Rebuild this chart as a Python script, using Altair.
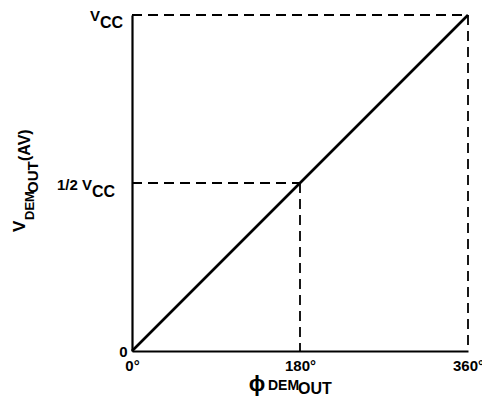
import altair as alt
import pandas as pd

# ---- data ----
phase_deg = [0, 360]          # phase difference (degrees)
vout_frac = [0, 1]            # output voltage as fraction of Vcc
half_phase = 180
half_vout = 0.5
x_ticks = [0, 180, 360]

FONT = "Liberation Sans"

line_df = pd.DataFrame({"phase": phase_deg, "v": vout_frac})
guides_df = pd.DataFrame({
    "x": [0, 360, 0, half_phase],
    "x2": [360, 360, half_phase, half_phase],
    "y": [1, 1, half_vout, half_vout],
    "y2": [1, 0, half_vout, 0],
})

xs = alt.Scale(domain=[0, 360], nice=False, zero=False)
ys = alt.Scale(domain=[0, 1], nice=False, zero=False)

base_x = alt.X("phase:Q", scale=xs, axis=alt.Axis(
    values=x_ticks, labelExpr="datum.value + '°'", title=None, grid=False,
    ticks=False, domainColor="black", domainWidth=2.2, labelFont=FONT,
    labelFontWeight="bold", labelFontSize=15, labelColor="black",
    labelPadding=7, labelFlush=False, labelOverlap=False))
base_y = alt.Y("v:Q", scale=ys, axis=alt.Axis(
    values=[0], labelExpr="'0'", title=None, grid=False, ticks=False,
    domainColor="black", domainWidth=2.2, labelFont=FONT,
    labelFontWeight="bold", labelFontSize=15, labelColor="black",
    labelPadding=5, labelBaseline="middle"))

main_line = alt.Chart(line_df).mark_line(color="black", strokeWidth=2.6).encode(
    x=base_x, y=base_y)

guides = alt.Chart(guides_df).mark_rule(
    color="black", strokeWidth=1.8, strokeDash=[10, 6]).encode(
    x=alt.X("x:Q", scale=xs), x2="x2:Q",
    y=alt.Y("y:Q", scale=ys), y2="y2:Q")


def anchored(text, xv, yv, size, dx, dy, align="left", baseline="alphabetic"):
    df = pd.DataFrame({"x": [xv], "y": [yv], "t": [text]})
    return alt.Chart(df).mark_text(
        font=FONT, fontWeight="bold", fontSize=size, color="black",
        align=align, baseline=baseline, dx=dx, dy=dy).encode(
        x=alt.X("x:Q", scale=xs), y=alt.Y("y:Q", scale=ys), text="t:N")


def placed(text, px, py, size, angle=0):
    df = pd.DataFrame({"t": [text]})
    return alt.Chart(df).mark_text(
        font=FONT, fontWeight="bold", fontSize=size, color="black",
        align="left", baseline="alphabetic", angle=angle).encode(
        x=alt.value(px), y=alt.value(py), text="t:N")


labels = [
    # Vcc at top
    anchored("V", 0, 1, 15, -42, 6),
    anchored("CC", 0, 1, 16, -32, 13),
    # 1/2 Vcc
    anchored("1/2 V", 0, half_vout, 15, -75, 7),
    anchored("CC", 0, half_vout, 16, -40, 14),
    # x title
    anchored("ϕ", half_phase, 0, 22, -43, 40, align="center"),
    anchored("DEM", half_phase, 0, 14, -32, 39),
    anchored("OUT", half_phase, 0, 16, -2, 43),
    # y title (rotated)
    placed("V", -107, 217, 17, 270),
    placed("DEM", -98, 205, 13, 270),
    placed("OUT", -94, 178, 15, 270),
    placed("(AV)", -102, 146, 16, 270),
]

chart = alt.layer(guides, main_line, *labels).properties(
    width=336, height=336,
    autosize=alt.AutoSizeParams(type="none"),
    padding={"left": 124, "top": 7, "right": 14, "bottom": 45},
).configure_view(stroke=None)

chart.save("out.html", embed_options={"renderer": "svg", "actions": False})
